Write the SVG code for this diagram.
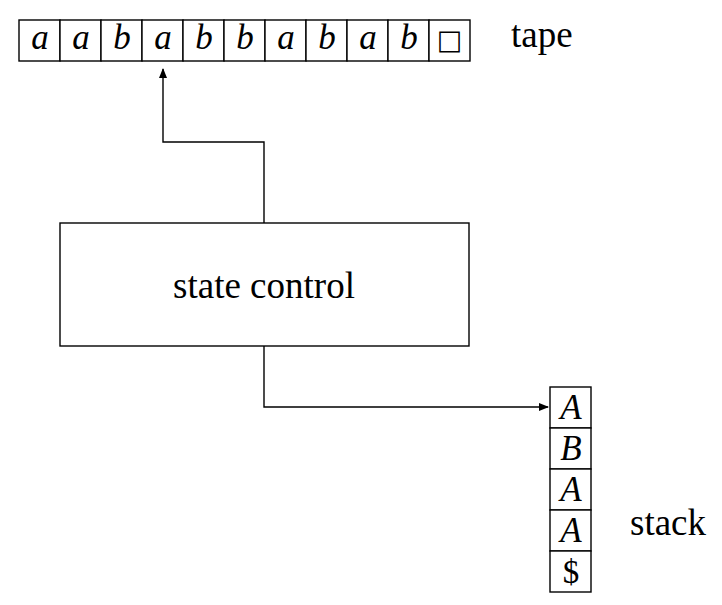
<svg xmlns="http://www.w3.org/2000/svg" width="722" height="605" viewBox="0 0 722 605">
<defs>
<marker id="ah" markerWidth="10" markerHeight="8" refX="9" refY="4" orient="auto" markerUnits="userSpaceOnUse">
<path d="M0,0 L10,4 L0,8 z" fill="#000"/>
</marker>
<style>
.cell{fill:#fff;stroke:#000;stroke-width:1.4}
.sym{font-family:"Liberation Serif",serif;font-style:italic;font-size:35px;text-anchor:middle}
.lbl{font-family:"Liberation Serif",serif;font-size:37px}
.con{fill:none;stroke:#000;stroke-width:1.4}
</style>
</defs>
<rect width="722" height="605" fill="#fff"/>
<g id="tape">
<rect class="cell" x="19" y="20" width="41" height="41"/>
<rect class="cell" x="60" y="20" width="41" height="41"/>
<rect class="cell" x="101" y="20" width="41" height="41"/>
<rect class="cell" x="142" y="20" width="41" height="41"/>
<rect class="cell" x="183" y="20" width="41" height="41"/>
<rect class="cell" x="224" y="20" width="41" height="41"/>
<rect class="cell" x="265" y="20" width="41" height="41"/>
<rect class="cell" x="306" y="20" width="41" height="41"/>
<rect class="cell" x="347" y="20" width="41" height="41"/>
<rect class="cell" x="388" y="20" width="41" height="41"/>
<rect class="cell" x="429" y="20" width="41" height="41"/>
<text class="sym" x="40" y="49">a</text>
<text class="sym" x="81" y="49">a</text>
<text class="sym" x="122" y="49">b</text>
<text class="sym" x="163" y="49">a</text>
<text class="sym" x="204" y="49">b</text>
<text class="sym" x="245" y="49">b</text>
<text class="sym" x="286" y="49">a</text>
<text class="sym" x="327" y="49">b</text>
<text class="sym" x="368" y="49">a</text>
<text class="sym" x="409" y="49">b</text>
<text x="449.5" y="49" font-family="DejaVu Sans, sans-serif" font-size="27" text-anchor="middle">□</text>
</g>
<g id="tape-label"><text class="lbl" x="511" y="47">tape</text></g>
<g id="state-control">
<rect class="cell" x="60" y="223" width="409" height="123"/>
<text class="lbl" x="264" y="298" text-anchor="middle">state control</text>
</g>
<g id="stack">
<rect class="cell" x="550" y="387" width="41" height="41"/>
<rect class="cell" x="550" y="428" width="41" height="41"/>
<rect class="cell" x="550" y="469" width="41" height="41"/>
<rect class="cell" x="550" y="510" width="41" height="41"/>
<rect class="cell" x="550" y="551" width="41" height="41"/>
<text class="sym" x="571" y="419">A</text>
<text class="sym" x="571" y="460">B</text>
<text class="sym" x="571" y="501">A</text>
<text class="sym" x="571" y="542">A</text>
<text x="571" y="583" font-family="Liberation Serif, serif" font-size="33" text-anchor="middle">$</text>
</g>
<g id="stack-label"><text class="lbl" x="630" y="535">stack</text></g>
<g id="connectors">
<path class="con" d="M264,223 V142 H163 V69" marker-end="url(#ah)"/>
<path class="con" d="M264,346 V407 H548" marker-end="url(#ah)"/>
</g>
</svg>
